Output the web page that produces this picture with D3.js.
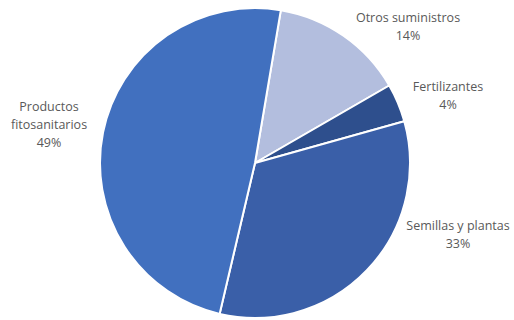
<!DOCTYPE html>
<html><head><meta charset="utf-8">
<script src="https://cdn.jsdelivr.net/npm/d3@7"></script>
<style>body{margin:0;background:#fff}svg{display:block}</style>
</head><body><svg id="c" width="514" height="320"></svg>
<script>
const categories = ["Otros suministros", "Fertilizantes", "Semillas y plantas", "Productos fitosanitarios"];
const values = [14, 4, 33, 49];
const labelLines = [["Otros suministros", "14%"], ["Fertilizantes", "4%"], ["Semillas y plantas", "33%"], ["Productos", "fitosanitarios", "49%"]];
const colors = ["#B3BEDE", "#2E4F8D", "#3A5FA8", "#4170BF"];
const labelPos = [[408, 18], [448, 87], [458, 226], [49, 107]];

const svg = d3.select("#c");
const cx = 255, cy = 163, r = 155;
const startA = 9.6 * Math.PI / 180;
const pie = d3.pie().sort(null).value(d => d).startAngle(startA).endAngle(startA + 2 * Math.PI);
const arc = d3.arc().innerRadius(0).outerRadius(r);
const g = svg.append("g").attr("transform", `translate(${cx},${cy})`);
g.selectAll("path").data(pie(values)).join("path")
  .attr("d", arc).attr("fill", (d, i) => colors[i])
  .attr("stroke", "#fff").attr("stroke-width", 2).attr("stroke-linejoin", "round");

const lg = svg.append("g").attr("font-family", "Open Sans, sans-serif").attr("font-size", 12.5).attr("fill", "#595959").attr("text-anchor", "middle");
labelLines.forEach((lines, i) => {
  const t = lg.append("text").attr("x", labelPos[i][0]).attr("y", labelPos[i][1] + 4);
  lines.forEach((l, j) => t.append("tspan").attr("x", labelPos[i][0]).attr("dy", j === 0 ? 0 : 18).text(l));
});
</script></body></html>
